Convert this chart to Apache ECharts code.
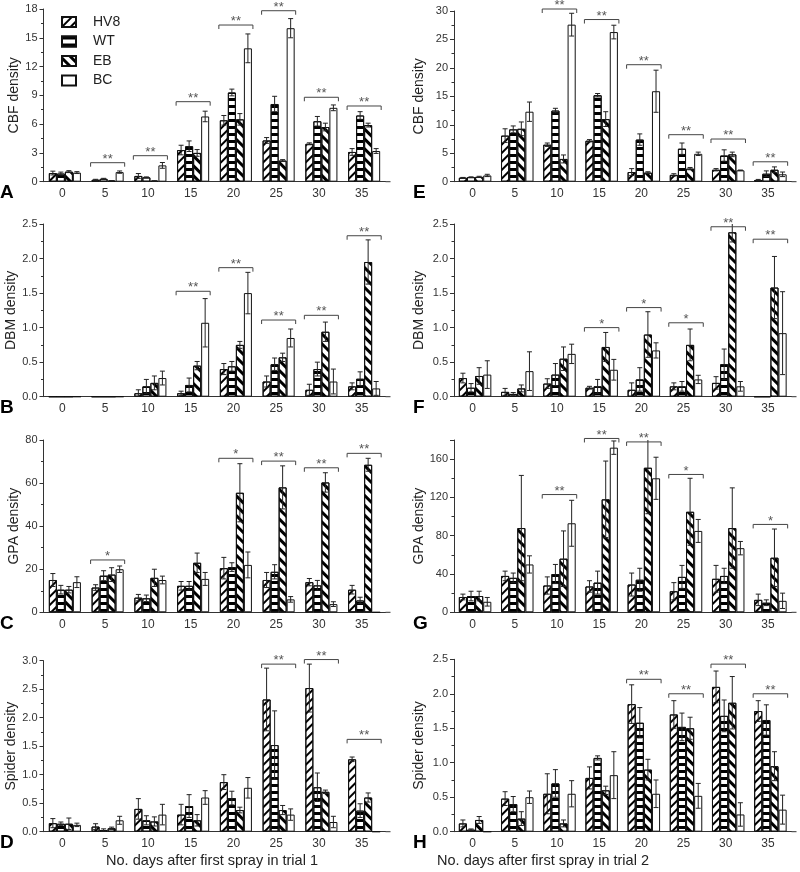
<!DOCTYPE html>
<html><head><meta charset="utf-8">
<script src="https://cdn.jsdelivr.net/npm/echarts@6/dist/echarts.min.js"></script>
<style>html,body{margin:0;padding:0;background:#fff}#c{width:800px;height:872px}</style>
</head><body><div id="c"></div>
<script>
// ---------- data ----------
const days = ['0','5','10','15','20','25','30','35'];
const groups = ['HV8','WT','EB','BC'];

// rows: HV8, WT, EB, BC
const cbf1Mean = [[0.9,0.2,0.6,3.3,6.4,4.3,3.95,3.1],[0.85,0.3,0.45,3.7,9.3,8.1,6.3,6.9],[1.05,0.1,0.08,3.0,6.5,2.2,5.7,5.9],[0.95,1.0,1.7,6.8,13.9,16.0,7.7,3.2]];
const cbf1Err  = [[0.2,0.05,0.25,0.5,0.5,0.3,0.1,0.35],[0.15,0.05,0.05,0.55,0.35,0.8,0.5,0.4],[0.1,0.02,0.02,0.35,0.6,0.1,0.4,0.2],[0.1,0.12,0.3,0.55,1.5,1.0,0.3,0.25]];
const cbf1Sig  = [[1,'**',1.98],[2,'**',2.71],[3,'**',8.34],[4,'**',16.33],[5,'**',17.82],[6,'**',8.8],[7,'**',7.89]];

const cbf2Mean = [[0.7,8.1,6.5,7.2,1.7,1.2,2.1,0.3],[0.8,9.2,12.5,15.2,7.4,5.8,4.6,1.4],[0.85,9.3,4.0,11.0,1.6,2.3,4.8,2.1],[1.1,12.3,27.6,26.3,15.9,4.9,2.0,1.3]];
const cbf2Err  = [[0.05,1.2,0.3,0.2,0.6,0.2,0.2,0.1],[0.05,0.6,0.4,0.3,1.0,1.0,1.0,0.5],[0.1,1.2,0.7,1.3,0.15,0.2,0.4,0.5],[0.2,1.7,2.0,1.2,3.7,0.3,0.05,0.4]];
const cbf2Sig  = [[2,'**',30.35],[3,'**',28.5],[4,'**',20.56],[5,'**',8.26],[6,'**',7.5],[7,'**',3.5]];

const dbm1Mean = [[0,0,0.05,0.05,0.4,0.22,0.1,0.15],[0,0,0.15,0.17,0.44,0.47,0.4,0.26],[0,0,0.2,0.45,0.75,0.57,0.94,1.95],[0,0,0.27,1.07,1.5,0.85,0.22,0.12]];
const dbm1Err  = [[0,0,0.05,0.03,0.08,0.08,0.08,0.05],[0,0,0.1,0.1,0.07,0.09,0.1,0.1],[0,0,0.1,0.06,0.05,0.06,0.14,0.32],[0,0,0.1,0.35,0.3,0.13,0.18,0.1]];
const dbm1Sig  = [[3,'**',1.526],[4,'**',1.868],[5,'**',1.11],[6,'**',1.178],[7,'**',2.33]];

const dbm2Mean = [[0.27,0.07,0.19,0.13,0.1,0.15,0.2,0],[0.13,0.04,0.32,0.15,0.25,0.15,0.47,0],[0.3,0.12,0.55,0.72,0.9,0.75,2.38,1.58],[0.32,0.37,0.62,0.39,0.67,0.25,0.15,0.92]];
const dbm2Err  = [[0.07,0.05,0.07,0.02,0.1,0.05,0.09,0],[0.06,0.02,0.16,0.1,0.17,0.07,0.22,0],[0.12,0.05,0.17,0.21,0.33,0.23,0.14,0.45],[0.2,0.28,0.14,0.15,0.11,0.06,0.07,0.6]];
const dbm2Sig  = [[3,'*',1.0],[4,'*',1.29],[5,'*',1.07],[6,'**',2.46],[7,'**',2.28]];

const gpa1Mean = [[15,11.5,6.8,12.3,20.5,15,14,10.5],[10.5,17,6.5,12.3,21,18.8,12.5,5.5],[10.5,17.5,16,23,55.5,58,60.3,68.5],[14,20,15,15.5,22,6,3.8,0]];
const gpa1Err  = [[3,1.3,1.5,2,5,3.5,1.7,2],[2,2.3,1.5,2,2,3.3,2.3,1.5],[1.5,3.2,4,4.5,13.5,10,4.5,3],[2.5,1.5,1.8,3,6,1.3,1.1,0]];
const gpa1Sig  = [[1,'*',24.3],[4,'*',71.5],[5,'**',70.2],[6,'**',67.1],[7,'**',73.8]];

const gpa2Mean = [[16,38,28,27,29,22,35,13],[17,36,40,31,34,37,38,10],[17,88,56,118,151,105,88,57],[11,50,93,172,140,85,67,12]];
const gpa2Err  = [[3,5,9,6,12,9,14,6],[5,5,10,12,12,12,8,3],[5,55,29,40,48,35,42,30],[4.5,9,24,7,22,12,7,8]];
const gpa2Sig  = [[2,'**',123],[3,'**',181.6],[4,'**',178],[5,'*',144],[7,'*',91.8]];

const spd1Mean = [[0.15,0.09,0.4,0.3,0.87,2.32,2.52,1.27],[0.14,0.03,0.2,0.45,0.59,1.52,0.78,0.37],[0.14,0.06,0.18,0.2,0.38,0.38,0.7,0.6],[0.12,0.2,0.3,0.6,0.77,0.3,0.17,0]];
const spd1Err  = [[0.08,0.05,0.18,0.18,0.13,0.55,0.42,0.04],[0.03,0.02,0.08,0.2,0.12,0.6,0.25,0.12],[0.1,0.02,0.08,0.1,0.05,0.08,0.03,0.08],[0.03,0.07,0.18,0.12,0.18,0.1,0.1,0]];
const spd1Sig  = [[5,'**',2.94],[6,'**',3.02],[7,'**',1.62]];

const spd2Mean = [[0.12,0.48,0.55,0.78,1.85,1.7,2.1,1.75],[0.03,0.4,0.7,1.07,1.58,1.52,1.68,1.62],[0.17,0.19,0.12,0.6,0.9,1.5,1.87,0.95],[0,0.5,0.55,0.82,0.55,0.52,0.25,0.32]];
const spd2Err  = [[0.05,0.1,0.29,0.16,0.28,0.2,0.23,0.15],[0.01,0.11,0.2,0.03,0.22,0.2,0.23,0.22],[0.05,0.1,0.05,0.06,0.15,0.16,0.38,0.21],[0,0.09,0.19,0.34,0.2,0.18,0.17,0.21]];
const spd2Sig  = [[4,'**',2.21],[5,'**',2.0],[6,'**',2.43],[7,'**',2.0]];

// ---------- layout / style ----------
const FONT = '"Liberation Sans", Arial, sans-serif';
const L = {left:43.5, width:342, gap:0.25, nameGap:22, letterX:0};
const R = {left:454, width:337.5, gap:0.23, nameGap:28, letterX:413};
const fmt1 = v => v.toFixed(1);
const panels = [
  {letter:'A', col:L, top:9,     height:172.7, mean:cbf1Mean, err:cbf1Err, sig:cbf1Sig, name:'CBF density',    max:18,  interval:3,   fmt:null},
  {letter:'E', col:R, top:11,    height:170.7, mean:cbf2Mean, err:cbf2Err, sig:cbf2Sig, name:'CBF density',    max:30,  interval:5,   fmt:null},
  {letter:'B', col:L, top:224,   height:172.7, mean:dbm1Mean, err:dbm1Err, sig:dbm1Sig, name:'DBM density',    max:2.5, interval:0.5, fmt:fmt1},
  {letter:'F', col:R, top:224,   height:172.7, mean:dbm2Mean, err:dbm2Err, sig:dbm2Sig, name:'DBM density',    max:2.5, interval:0.5, fmt:fmt1},
  {letter:'C', col:L, top:440,   height:172.3, mean:gpa1Mean, err:gpa1Err, sig:gpa1Sig, name:'GPA density',    max:80,  interval:20,  fmt:null},
  {letter:'G', col:R, top:440,   height:172.3, mean:gpa2Mean, err:gpa2Err, sig:gpa2Sig, name:'GPA density',    max:180, interval:40,  fmt:null, hideMax:true},
  {letter:'D', col:L, top:660.7, height:171,   mean:spd1Mean, err:spd1Err, sig:spd1Sig, name:'Spider density', max:3.0, interval:0.5, fmt:fmt1},
  {letter:'H', col:R, top:659.3, height:172.4, mean:spd2Mean, err:spd2Err, sig:spd2Sig, name:'Spider density', max:2.5, interval:0.5, fmt:fmt1}
];

const decals = [
  {symbol:'rect', symbolSize:1, color:'#000', dashArrayX:[1,0], dashArrayY:[2,4], rotation:-Math.PI/4},
  {symbol:'rect', symbolSize:1, color:'#000', dashArrayX:[1,0], dashArrayY:[3,4], rotation:0},
  {symbol:'rect', symbolSize:1, color:'#000', dashArrayX:[1,0], dashArrayY:[3,4], rotation:Math.PI/4},
  null
];

const grids = [], xAxes = [], yAxes = [], series = [], graphics = [];

panels.forEach((p, gi) => {
  const c = p.col;
  grids.push({left:c.left, top:p.top, width:c.width, height:p.height});
  xAxes.push({gridIndex:gi, type:'category', data:days,
    axisLine:{lineStyle:{color:'#333', width:1}}, axisTick:{show:false},
    axisLabel:{fontSize:12, color:'#333', margin:6, fontFamily:FONT, padding:[0,5,0,0]}});
  yAxes.push({gridIndex:gi, type:'value', min:0, max:p.max, interval:p.interval,
    name:p.name, nameLocation:'middle', nameGap:c.nameGap,
    nameTextStyle:{fontSize:14, color:'#222', fontFamily:FONT},
    axisLine:{show:true, lineStyle:{color:'#333', width:1}},
    axisTick:{show:true, length:4, lineStyle:{color:'#333'}},
    minorTick:{show:true, splitNumber:2, length:2.5, lineStyle:{color:'#333'}},
    splitLine:{show:false},
    axisLabel:{fontSize:11, color:'#333', margin:6, fontFamily:FONT,
      formatter: p.fmt || (v => String(v)), showMaxLabel: p.hideMax ? false : true}});

  groups.forEach((g, s) => {
    const it = {color:'#fff', borderColor:'#111', borderWidth:1};
    if (decals[s]) it.decal = decals[s];
    series.push({type:'bar', name:g, xAxisIndex:gi, yAxisIndex:gi, data:p.mean[s],
      barGap:'0%', barCategoryGap:(c.gap*100)+'%', itemStyle:it, silent:true, z:2});
  });

  // error bars
  const edata = [];
  p.mean.forEach((arr, s) => arr.forEach((m, ci) => {
    const e = p.err[s][ci];
    if (e > 0) edata.push([ci, s, m, e]);
  }));
  const gap = c.gap;
  series.push({type:'custom', xAxisIndex:gi, yAxisIndex:gi, z:5, silent:true, clip:false,
    encode:{x:0, y:2}, data:edata,
    renderItem(params, api) {
      const ci = api.value(0), s = api.value(1), m = api.value(2), e = api.value(3);
      const band = api.size([1, 0])[0];
      const gw = band * (1 - gap), bw = gw / 4;
      const base = api.coord([ci, m]);
      const x = base[0] - gw / 2 + (s + 0.5) * bw;
      const top = params.coordSys.y;
      let y1 = api.coord([ci, m + e])[1];
      const y0 = api.coord([ci, Math.max(0, m - e)])[1];
      const clipped = y1 < top;
      if (clipped) y1 = top;
      const st = {stroke:'#222', lineWidth:1};
      const hw = 2.5;
      const ch = [{type:'line', shape:{x1:x, y1:y0, x2:x, y2:y1}, style:st}];
      if (!clipped) ch.push({type:'line', shape:{x1:x-hw, y1:y1, x2:x+hw, y2:y1}, style:st});
      if (m - e > 0) ch.push({type:'line', shape:{x1:x-hw, y1:y0, x2:x+hw, y2:y0}, style:st});
      return {type:'group', children:ch};
    }});

  // significance brackets
  const sig = p.sig;
  series.push({type:'custom', xAxisIndex:gi, yAxisIndex:gi, z:6, silent:true, clip:false,
    encode:{x:0, y:1}, data:sig.map(d => [d[0], d[2]]),
    renderItem(params, api) {
      const ci = api.value(0), lvl = api.value(1);
      const label = sig[params.dataIndex][1];
      const band = api.size([1, 0])[0];
      const gw = band * (1 - gap);
      const pt = api.coord([ci, lvl]);
      const x0 = pt[0] - gw / 2 - 1, x1 = pt[0] + gw / 2 + 1, y = pt[1];
      return {type:'group', children:[
        {type:'polyline', shape:{points:[[x0, y+4],[x0, y],[x1, y],[x1, y+4]]}, style:{stroke:'#444', fill:null, lineWidth:1}},
        {type:'text', style:{text:label, x:pt[0], y:y+3, align:'center', verticalAlign:'bottom', font:'13px ' + FONT, fill:'#555'}}
      ]};
    }});

  // panel letter
  graphics.push({type:'text', left:c.letterX, top:p.top + p.height + 1.5,
    style:{text:p.letter, font:'bold 19px ' + FONT, fill:'#000'}});
  // x axis line extension
  const xr = c.left + c.width;
  const yb = p.top + p.height;
  graphics.push({type:'line', shape:{x1:xr, y1:yb, x2:xr + 5, y2:yb}, style:{stroke:'#333', lineWidth:1}});
});

graphics.push({type:'text', x:212, y:861, style:{text:'No. days after first spray in trial 1', font:'14.5px ' + FONT, fill:'#222', align:'center', verticalAlign:'middle'}});
graphics.push({type:'text', x:543, y:861, style:{text:'No. days after first spray in trial 2', font:'14.5px ' + FONT, fill:'#222', align:'center', verticalAlign:'middle'}});

const chart = echarts.init(document.getElementById('c'), null, {renderer:'canvas'});
chart.setOption({
  animation:false,
  backgroundColor:'#fff',
  textStyle:{fontFamily:FONT},
  legend:{data:groups, left:61, top:15, padding:0, orient:'vertical', itemWidth:14, itemHeight:10, itemGap:5.5,
    icon:'rect', selectedMode:false,
    textStyle:{fontSize:14, color:'#222', fontFamily:FONT, padding:[0,0,0,12]}},
  grid:grids, xAxis:xAxes, yAxis:yAxes, series:series, graphic:graphics
});
</script></body></html>
